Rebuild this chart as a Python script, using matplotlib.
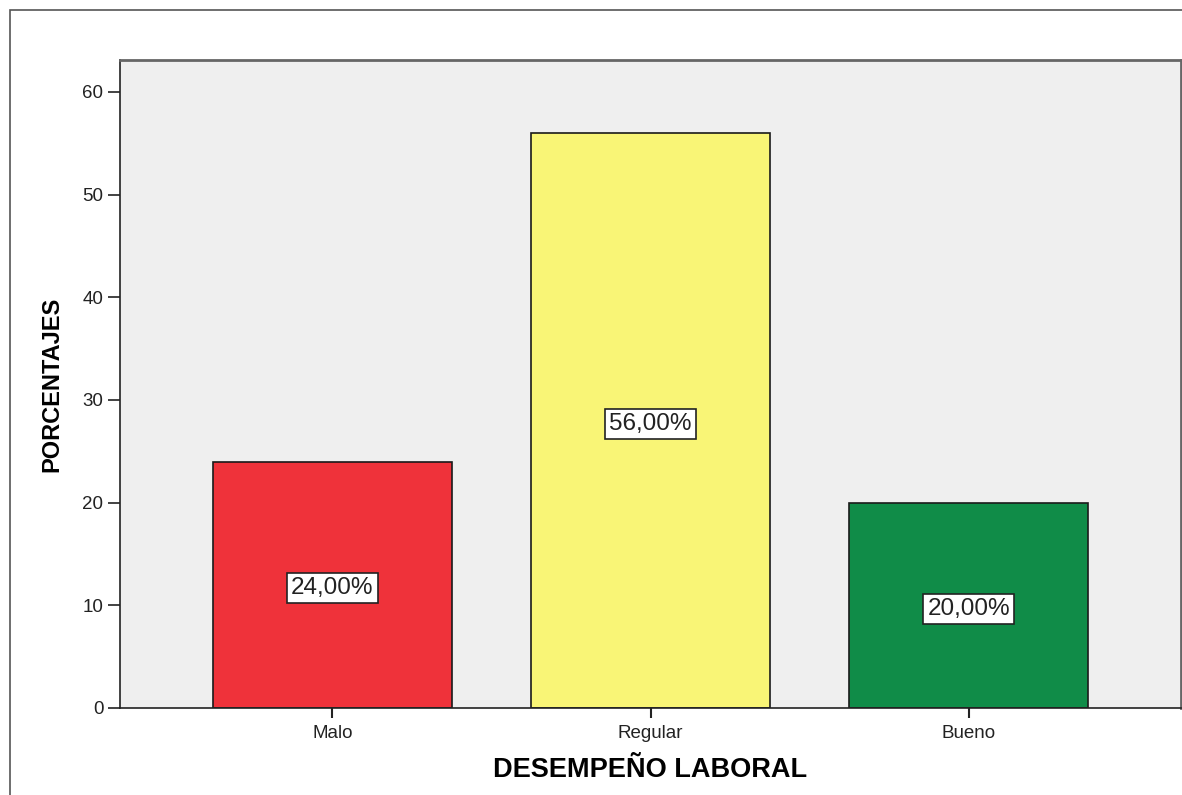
import matplotlib.pyplot as plt
from matplotlib.patches import Rectangle

plt.rcParams['font.family'] = ['Liberation Sans', 'DejaVu Sans']

# Desempeño laboral - porcentajes por categoría
CATEGORIAS = ["Malo", "Regular", "Bueno"]
PORCENTAJES = [24.0, 56.0, 20.0]
COLORES = ["#EF323A", "#F9F576", "#108C48"]

fig = plt.figure(figsize=(11.82, 7.95), dpi=100)

# marco exterior de la figura
fig.patches.append(Rectangle((10 / 1182, -0.05), 1.2, 1 - 10 / 795 + 0.05,
                             transform=fig.transFigure, fill=False,
                             edgecolor='#555555', lw=1.2, zorder=0))

ax = fig.add_axes([120 / 1182, 1 - 708 / 795, 1061 / 1182, 648 / 795])
ax.set_facecolor('#EFEFEF')

x = range(len(CATEGORIAS))
ax.bar(x, PORCENTAJES, width=0.75, color=COLORES, edgecolor='#1a1a1a', lw=1.2, zorder=2)

# etiqueta de porcentaje en el centro de cada barra
for i, v in enumerate(PORCENTAJES):
    ax.annotate(f"{v:.2f}%".replace('.', ','), xy=(i, v / 2), xytext=(0, -2.5),
                textcoords='offset points', ha='center', va='center',
                fontsize=17.5, color='#222222', zorder=3,
                bbox=dict(boxstyle='square,pad=0.17', facecolor='white',
                          edgecolor='#222222', lw=1.2))

ax.set_xlim(-0.667, 2.667)
ax.set_ylim(0, 63.1)
ax.set_yticks(range(0, 61, 10))
ax.set_xticks(list(x))
ax.set_xticklabels(CATEGORIAS)

ax.tick_params(axis='y', direction='out', length=9, width=1.2, labelsize=13.5,
               pad=3, colors='#222222')
ax.tick_params(axis='x', direction='out', length=7, width=1.5, labelsize=13.5,
               pad=5, colors='#222222')

for side in ['left', 'bottom']:
    ax.spines[side].set_color('#222222')
    ax.spines[side].set_linewidth(1.2)
for side in ['top', 'right']:
    ax.spines[side].set_color('#666666')
    ax.spines[side].set_linewidth(2)

ax.set_xlabel("DESEMPEÑO LABORAL", fontsize=19.5, fontweight='bold', labelpad=11)
ax.set_ylabel("PORCENTAJES", fontsize=17, fontweight='bold', labelpad=14)

fig.savefig("out.png", dpi=100)
